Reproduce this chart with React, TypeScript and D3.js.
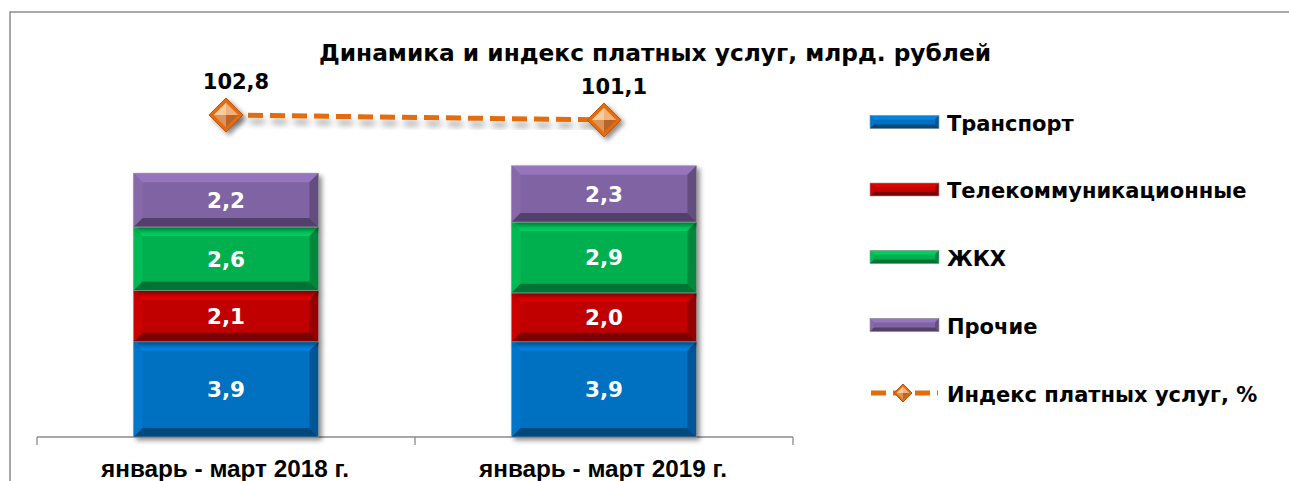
import React from "react";
import * as d3 from "d3";

const title = "Динамика и индекс платных услуг, млрд. рублей";
const categories = ["январь - март 2018 г.", "январь - март 2019 г."];
const seriesNames = ["Транспорт", "Телекоммуникационные", "ЖКХ", "Прочие"];
const transport = [3.9, 3.9];
const telecom = [2.1, 2.0];
const housing = [2.6, 2.9];
const other = [2.2, 2.3];
const indexName = "Индекс платных услуг, %";
const indexValues = [102.8, 101.1];
const colors = ["#0070C0", "#C00000", "#00B050", "#8064A2"];
const lineColor = "#E46C0A";

const W = 1289;
const H = 481;
const plot = { left: 37, right: 793, bottom: 437, top: 95 };

const fmt = (v: number) => d3.format(".1f")(v).replace(".", ",");

const table = categories.map((c, i) => ({
  cat: c,
  s0: transport[i],
  s1: telecom[i],
  s2: housing[i],
  s3: other[i],
}));

function Bevel({ x, y, w, h, color, b }: { x: number; y: number; w: number; h: number; color: string; b: number }) {
  const c = d3.color(color)!;
  const top = c.brighter(0.45).formatHex();
  const left = c.brighter(0.15).formatHex();
  const right = c.darker(0.7).formatHex();
  const bottom = c.darker(1.2).formatHex();
  const p = (pts: number[][]) => pts.map((q) => q.join(",")).join(" ");
  return (
    <g>
      <rect x={x} y={y} width={w} height={h} fill={color} />
      <polygon points={p([[x, y], [x + w, y], [x + w - b, y + b], [x + b, y + b]])} fill={top} />
      <polygon points={p([[x, y], [x + b, y + b], [x + b, y + h - b], [x, y + h]])} fill={left} />
      <polygon points={p([[x + w, y], [x + w, y + h], [x + w - b, y + h - b], [x + w - b, y + b]])} fill={right} />
      <polygon points={p([[x, y + h], [x + w, y + h], [x + w - b, y + h - b], [x + b, y + h - b]])} fill={bottom} />
      <rect x={x} y={y} width={w} height={h} fill="none" stroke="#9a9a9a" strokeWidth={0.6} />
    </g>
  );
}

function Diamond({ cx, cy, r }: { cx: number; cy: number; r: number }) {
  const ri = r * 0.72;
  const p = (pts: number[][]) => pts.map((q) => q.join(",")).join(" ");
  const T = [cx, cy - ri], R = [cx + ri, cy], B = [cx, cy + ri], L = [cx - ri, cy], C = [cx, cy];
  return (
    <g>
      <polygon points={p([[cx, cy - r], [cx + r, cy], [cx, cy + r], [cx - r, cy]])} fill={lineColor} stroke="#B85408" strokeWidth={1} />
      <polygon points={p([L, T, C])} fill="#F8CBA2" />
      <polygon points={p([T, R, C])} fill="#F3B07A" />
      <polygon points={p([R, B, C])} fill="#B9652C" />
      <polygon points={p([B, L, C])} fill="#DE9458" />
    </g>
  );
}

export default function App() {
  const keys = ["s0", "s1", "s2", "s3"];
  const stacked = d3.stack<any>().keys(keys)(table);

  const x = d3
    .scaleBand<string>()
    .domain(categories)
    .range([plot.left, plot.right])
    .paddingInner(0.511)
    .paddingOuter(0.2555);
  const y = d3.scaleLinear().domain([0, 14]).range([plot.bottom, plot.top]);
  const y2 = d3.scaleLinear().domain([100, 104]).range([123.2, 111.4]);

  const step = x.step();
  const ticks = [plot.left, plot.left + step, plot.left + 2 * step];

  const linePts = categories.map((c, i) => [x(c)! + x.bandwidth() / 2, y2(indexValues[i])] as [number, number]);
  const lineGen = d3.line();

  const legendY = [122, 189.5, 257, 325, 393];
  const font = "'DejaVu Sans', sans-serif";

  return (
    <svg width={W} height={H} style={{ position: "absolute", left: 0, top: 0 }} xmlns="http://www.w3.org/2000/svg">
      <defs>
        <filter id="shadow" x="-20%" y="-20%" width="150%" height="150%">
          <feDropShadow dx={3} dy={3} stdDeviation={2.5} floodColor="#000" floodOpacity={0.45} />
        </filter>
        <filter id="lshadow" x="-20%" y="-100%" width="140%" height="400%">
          <feGaussianBlur in="SourceAlpha" stdDeviation={3} />
          <feOffset dx={2} dy={6} result="b" />
          <feComponentTransfer>
            <feFuncA type="linear" slope={0.35} />
          </feComponentTransfer>
          <feMerge>
            <feMergeNode />
            <feMergeNode in="SourceGraphic" />
          </feMerge>
        </filter>
      </defs>
      <rect x={0} y={0} width={W} height={H} fill="#fff" />
      <rect x={10} y={12} width={W + 20} height={H + 20} fill="#fff" stroke="#8c8c8c" strokeWidth={1.5} />

      <text x={655} y={61} textAnchor="middle" fontFamily={font} fontWeight="bold" fontSize={23.3} fill="#000">
        {title}
      </text>

      {/* axis */}
      <g stroke="#8a8a8a" strokeWidth={1.3}>
        <line x1={plot.left} x2={plot.right} y1={plot.bottom} y2={plot.bottom} />
        {ticks.map((t, i) => (
          <line key={i} x1={t} x2={t} y1={plot.bottom} y2={plot.bottom + 8} />
        ))}
      </g>
      {categories.map((c) => (
        <text key={c} x={x(c)! + x.bandwidth() / 2 - 1} y={477} textAnchor="middle" fontFamily="'Liberation Sans', Arial, sans-serif" fontWeight="bold" fontSize={24.3} fill="#000">
          {c}
        </text>
      ))}

      {/* bars */}
      {stacked.map((layer, si) => (
        <g key={si} filter="url(#shadow)">
          {layer.map((d, i) => (
            <Bevel key={i} x={x(categories[i])!} y={y(d[1])} w={x.bandwidth()} h={y(d[0]) - y(d[1])} color={colors[si]} b={9} />
          ))}
        </g>
      ))}
      {stacked.map((layer, si) =>
        layer.map((d, i) => (
          <text
            key={`${si}-${i}`}
            x={x(categories[i])! + x.bandwidth() / 2}
            y={(y(d[0]) + y(d[1])) / 2 + 8}
            textAnchor="middle"
            fontFamily={font}
            fontWeight="bold"
            fontSize={21.5}
            fill="#fff"
          >
            {fmt(d[1] - d[0])}
          </text>
        ))
      )}

      {/* index line */}
      <g filter="url(#lshadow)">
        <path d={lineGen(linePts)!} fill="none" stroke={lineColor} strokeWidth={5} strokeDasharray="15,7" />
      </g>
      {linePts.map((pt, i) => (
        <g key={i}>
          <g filter="url(#shadow)">
            <Diamond cx={pt[0]} cy={pt[1]} r={17} />
          </g>
          <text x={pt[0] + 10} y={pt[1] - 26} textAnchor="middle" fontFamily={font} fontWeight="bold" fontSize={21} fill="#000">
            {fmt(indexValues[i])}
          </text>
        </g>
      ))}

      {/* legend */}
      {seriesNames.map((n, i) => (
        <g key={n}>
          <Bevel x={870} y={legendY[i] - 6.5} w={69} h={13} color={colors[i]} b={4} />
          <text x={947} y={legendY[i] + 8.5} fontFamily={font} fontWeight="bold" fontSize={21} fill="#000">
            {n}
          </text>
        </g>
      ))}
      <g>
        <line x1={871} x2={938} y1={legendY[4]} y2={legendY[4]} stroke={lineColor} strokeWidth={5} strokeDasharray="15,7" />
        <Diamond cx={903} cy={legendY[4]} r={9} />
        <text x={947} y={legendY[4] + 8.5} fontFamily={font} fontWeight="bold" fontSize={21} fill="#000">
          {indexName}
        </text>
      </g>
    </svg>
  );
}
